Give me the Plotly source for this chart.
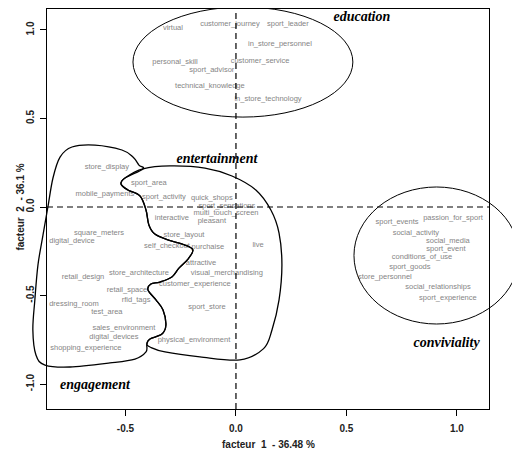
import plotly.graph_objects as go

# axis window (data units)
x_range = [-0.855, 1.145]
y_range = [-1.1412, 1.1186]

# word coordinates on the factorial plane
words = [
    "virtual", "customer_journey", "sport_leader", "in_store_personnel", "personal_skill",
    "customer_service", "sport_advisor", "technical_knowledge", "in_store_technology",
    "store_display", "sport_area", "mobile_payments", "sport_activity", "quick_shops",
    "sport_sensations", "multi_touch_screen", "interactive", "pleasant", "square_meters",
    "digital_device", "store_layout", "self_checkout", "purchaise", "live", "attractive",
    "retail_design", "store_architecture", "visual_merchandising", "customer_experience",
    "retail_space", "rfid_tags", "dressing_room", "test_area", "sport_store",
    "sales_environment", "digital_devices", "physical_environment", "shopping_experience",
    "passion_for_sport", "sport_events", "social_activity", "social_media", "sport_event",
    "conditions_of_use", "sport_goods", "store_personnel", "social_relationships",
    "sport_experience",
]
f1 = [
    -0.285, -0.027, 0.235, 0.199, -0.276, 0.109, -0.109, -0.118, 0.145,
    -0.584, -0.394, -0.593, -0.326, -0.109, -0.041, -0.045, -0.290, -0.109, -0.620,
    -0.742, -0.235, -0.312, -0.127, 0.100, -0.158, -0.692, -0.439, -0.041, -0.186,
    -0.493, -0.452, -0.733, -0.584, -0.131, -0.507, -0.552, -0.190, -0.679,
    0.982, 0.729, 0.814, 0.959, 0.950, 0.842, 0.787, 0.674, 0.914, 0.959,
]
f2 = [
    1.011, 1.034, 1.034, 0.921, 0.819, 0.825, 0.774, 0.684, 0.610,
    0.226, 0.136, 0.073, 0.056, 0.051, 0.006, -0.034, -0.062, -0.079, -0.147,
    -0.192, -0.158, -0.220, -0.226, -0.215, -0.316, -0.395, -0.373, -0.373, -0.435,
    -0.469, -0.525, -0.548, -0.593, -0.565, -0.684, -0.734, -0.751, -0.797,
    -0.062, -0.085, -0.147, -0.192, -0.237, -0.282, -0.339, -0.395, -0.452, -0.514,
]

# group names and where they are written
groups = ["education", "entertainment", "engagement", "conviviality"]
group_x = [0.570, -0.086, -0.638, 0.953]
group_y = [1.073, 0.271, -1.006, -0.770]

# hand drawn group outlines (data units)
education_box = [(-0.466, 0.508), (0.529, 1.130)]
conviviality_box = [(0.534, -0.661), (1.281, 0.113)]

divider = [
    (-0.421, 0.215), (-0.502, 0.164), (-0.520, 0.130), (-0.489, 0.096), (-0.434, 0.062),
    (-0.407, -0.017), (-0.394, -0.102), (-0.367, -0.153), (-0.308, -0.186), (-0.231, -0.215),
    (-0.195, -0.243), (-0.217, -0.294), (-0.258, -0.345), (-0.290, -0.395), (-0.344, -0.424),
    (-0.385, -0.435), (-0.398, -0.469), (-0.362, -0.525), (-0.330, -0.582), (-0.317, -0.667),
    (-0.335, -0.718), (-0.389, -0.746), (-0.403, -0.774),
]
engagement_rim = [
    (-0.407, -0.819), (-0.457, -0.859), (-0.570, -0.881), (-0.751, -0.904), (-0.864, -0.893),
    (-0.905, -0.836), (-0.919, -0.695), (-0.910, -0.525), (-0.896, -0.328), (-0.873, -0.158),
    (-0.851, 0.0), (-0.828, 0.164), (-0.796, 0.282), (-0.742, 0.339), (-0.638, 0.350),
    (-0.516, 0.322), (-0.466, 0.282), (-0.439, 0.237),
]
entertainment_rim = [
    (-0.299, 0.232), (-0.140, 0.220), (-0.018, 0.175), (0.090, 0.096), (0.158, -0.017),
    (0.195, -0.147), (0.208, -0.328), (0.195, -0.525), (0.163, -0.695), (0.125, -0.800),
    (0.018, -0.864), (-0.163, -0.847), (-0.321, -0.819), (-0.389, -0.791),
]


def to_paper(x, y):
    px = (x - x_range[0]) / (x_range[1] - x_range[0])
    py = (y - y_range[0]) / (y_range[1] - y_range[0])
    return px, py


def smooth_closed_path(pts):
    # closed Catmull-Rom spline turned into cubic bezier segments
    p = [to_paper(*q) for q in pts]
    n = len(p)
    path = "M %.5f,%.5f" % p[0]
    for i in range(n):
        p0, p1, p2, p3 = p[i - 1], p[i], p[(i + 1) % n], p[(i + 2) % n]
        c1 = (p1[0] + (p2[0] - p0[0]) / 6, p1[1] + (p2[1] - p0[1]) / 6)
        c2 = (p2[0] - (p3[0] - p1[0]) / 6, p2[1] - (p3[1] - p1[1]) / 6)
        path += " C %.5f,%.5f %.5f,%.5f %.5f,%.5f" % (c1 + c2 + p2)
    return path + " Z"


fig = go.Figure()

fig.add_trace(go.Scatter(
    x=f1, y=f2, mode="text", text=words,
    textposition="middle center",
    textfont=dict(family="Liberation Sans, Arial", size=7.5, color="#858585"),
    cliponaxis=False, hoverinfo="text", showlegend=False,
))
fig.add_trace(go.Scatter(
    x=group_x, y=group_y, mode="text", text=groups,
    textposition="middle center",
    textfont=dict(family="Liberation Serif, Times New Roman", size=14, color="black",
                  style="italic", weight="bold"),
    cliponaxis=False, hoverinfo="skip", showlegend=False,
))

# origin lines
fig.add_hline(y=0, line=dict(color="black", width=1.2, dash="6px,4px"))
fig.add_vline(x=0, line=dict(color="black", width=1.2, dash="6px,4px"))

# outlines (paper refs so they can spill over the frame like the original)
for box in (education_box, conviviality_box):
    (ax, ay), (bx, by) = to_paper(*box[0]), to_paper(*box[1])
    fig.add_shape(type="circle", xref="paper", yref="paper",
                  x0=ax, y0=ay, x1=bx, y1=by, line=dict(color="black", width=1))

fig.add_shape(type="path", xref="paper", yref="paper",
              path=smooth_closed_path(divider + engagement_rim),
              line=dict(color="black", width=1.3))
fig.add_shape(type="path", xref="paper", yref="paper",
              path=smooth_closed_path(entertainment_rim + divider[::-1]),
              line=dict(color="black", width=1.3))

axis_font = dict(family="Liberation Sans, Arial", size=10, color="#222", weight="bold")
fig.update_xaxes(range=x_range, tickvals=[-0.5, 0.0, 0.5, 1.0],
                 ticktext=["-0.5", "0.0", "0.5", "1.0"],
                 showgrid=False, zeroline=False, showline=True, mirror=True,
                 linecolor="black", linewidth=1, ticks="outside", ticklen=6,
                 tickcolor="black", tickfont=axis_font, ticklabelstandoff=4)
fig.update_yaxes(range=y_range, tickvals=[-1.0, -0.5, 0.0, 0.5, 1.0],
                 ticktext=["-1.0", "-0.5", "0.0", "0.5", "1.0"], tickangle=-90,
                 showgrid=False, zeroline=False, showline=True, mirror=True,
                 linecolor="black", linewidth=1, ticks="outside", ticklen=6,
                 tickcolor="black", tickfont=axis_font, ticklabelstandoff=2)

fig.add_annotation(text="facteur  1  - 36.48 %", xref="paper", yref="paper",
                   x=0.5, y=-0.1075, showarrow=False, font=axis_font)
fig.add_annotation(text="facteur  2  - 36.1 %", xref="paper", yref="paper",
                   x=-0.079, y=0.505, textangle=-90, showarrow=False, font=axis_font)

# the page adds an 8px body margin, so the figure is a bit smaller than the window
fig.update_layout(
    width=512, height=449,
    margin=dict(l=39, r=31, t=1, b=48),
    plot_bgcolor="white", paper_bgcolor="white",
)

fig.write_html("out.html")
